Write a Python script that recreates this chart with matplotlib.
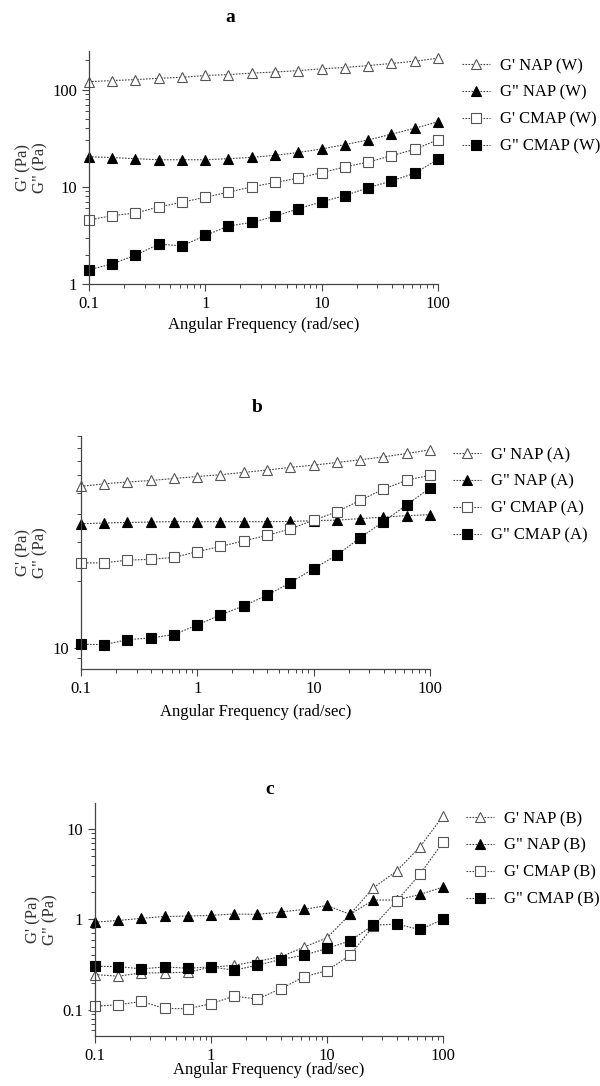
import numpy as np
import matplotlib.pyplot as plt
from matplotlib import ticker

# Inputs:

freq = [0.1, 0.158, 0.251, 0.398, 0.631, 1, 1.58, 2.51, 3.98, 6.31,
        10, 15.8, 25.1, 39.8, 63.1, 100]

# panel a (W)
gp_nap_w = [121, 124, 127, 131, 134, 140, 143, 148, 152, 157, 164, 169, 177, 186, 196, 211]
gpp_nap_w = [20.4, 20.0, 19.5, 19.0, 19.0, 19.0, 19.5, 20.1, 21.1, 22.6, 24.5, 27.2, 30.4, 34.8, 40.1, 46.7]
gp_cmap_w = [4.56, 5.05, 5.38, 6.21, 6.94, 7.82, 8.81, 10.0, 11.1, 12.3, 14.0, 16.0, 18.0, 20.9, 24.3, 30.6]
gpp_cmap_w = [1.40, 1.61, 1.98, 2.57, 2.47, 3.16, 3.95, 4.31, 4.97, 5.97, 7.0, 8.13, 9.77, 11.5, 13.8, 19.2]

# panel b (A)
gp_nap_a = [53.5, 55.0, 56.0, 56.9, 58.1, 59.3, 60.4, 61.9, 63.4, 65.2, 66.7, 68.6, 70.5, 72.7, 75.3, 78.2]
gpp_nap_a = [36.3, 36.6, 36.8, 37.0, 37.1, 37.1, 37.1, 37.1, 37.1, 37.2, 37.5, 37.7, 38.3, 38.9, 39.5, 39.9]
gp_cmap_a = [24.2, 24.2, 24.9, 25.1, 25.6, 27.2, 28.7, 30.4, 32.2, 34.4, 37.7, 41.1, 46.3, 52.0, 57.1, 60.1]
gpp_cmap_a = [10.4, 10.35, 10.9, 11.1, 11.5, 12.7, 14.1, 15.5, 17.3, 19.7, 22.8, 26.2, 31.4, 37.1, 44.2, 52.6]

# panel c (B)
gp_nap_b = [0.246, 0.236, 0.257, 0.257, 0.261, 0.297, 0.312, 0.346, 0.386, 0.494, 0.627, 1.14, 2.24, 3.43, 6.32, 13.9]
gpp_nap_b = [0.934, 0.975, 1.03, 1.08, 1.09, 1.11, 1.15, 1.14, 1.21, 1.29, 1.43, 1.14, 1.64, 1.64, 1.89, 2.28]
gp_cmap_b = [0.110, 0.114, 0.124, 0.104, 0.103, 0.117, 0.142, 0.132, 0.171, 0.232, 0.272, 0.403, 0.844, 1.60, 3.15, 7.18]
gpp_cmap_b = [0.304, 0.302, 0.284, 0.299, 0.289, 0.299, 0.275, 0.312, 0.361, 0.403, 0.478, 0.581, 0.866, 0.888, 0.775, 1.0]

labels_base = ["G' NAP", 'G" NAP', "G' CMAP", 'G" CMAP']

# Plot:

plt.rcParams['font.family'] = ['Liberation Serif', 'DejaVu Serif']
W, H = 600, 1086
fig = plt.figure(figsize=(W / 100, H / 100), dpi=100)

# box = (left, top, right, bottom) in pixels
panels = [
    dict(box=(89, 51, 438, 284), ylim=(1, 250), series=[gp_nap_w, gpp_nap_w, gp_cmap_w, gpp_cmap_w],
         tag='W', title='a', tx=230, ty=18, lx=462, ly=58, xl=325),
    dict(box=(81, 436, 430, 669), ylim=(8.04, 90.3), series=[gp_nap_a, gpp_nap_a, gp_cmap_a, gpp_cmap_a],
         tag='A', title='b', tx=257, ty=408, lx=453, ly=447, xl=712),
    dict(box=(95, 803, 443, 1036), ylim=(0.0515, 19.4), series=[gp_nap_b, gpp_nap_b, gp_cmap_b, gpp_cmap_b],
         tag='B', title='c', tx=270, ty=790, lx=466, ly=811, xl=1070),
]

styles = [
    dict(marker='^', mfc='white', mec='#555555'),
    dict(marker='^', mfc='black', mec='black'),
    dict(marker='s', mfc='white', mec='#555555'),
    dict(marker='s', mfc='black', mec='black'),
]

for p in panels:
    l, t, r, b = p['box']
    ax = fig.add_axes([l / W, 1 - b / H, (r - l) / W, (b - t) / H])
    handles = []
    for vals, st, lab in zip(p['series'], styles, labels_base):
        h, = ax.plot(freq, vals, color='#444444', lw=0.8, ls=(0, (1.5, 1.2)),
                     ms=7, mew=0.8, clip_on=False,
                     label='%s (%s)' % (lab, p['tag']), **st)
        handles.append(h)
    ax.set_xscale('log')
    ax.set_yscale('log')
    ax.set_xlim(0.1, 100)
    ax.set_ylim(*p['ylim'])
    for s in ['top', 'right']:
        ax.spines[s].set_visible(False)
    for s in ['left', 'bottom']:
        ax.spines[s].set_color('#444444')
        ax.spines[s].set_linewidth(0.9)
    fmt = ticker.FuncFormatter(lambda v, _: '%g' % v)
    ax.xaxis.set_major_formatter(fmt)
    ax.yaxis.set_major_formatter(fmt)
    ax.xaxis.set_minor_formatter(ticker.NullFormatter())
    ax.yaxis.set_minor_formatter(ticker.NullFormatter())
    ax.tick_params(which='major', length=5, width=0.8, color='#444444', labelsize=12)
    ax.tick_params(which='minor', length=3, width=0.7, color='#444444')
    ax.set_ylabel("G' (Pa)\nG\" (Pa)", fontsize=12, color='#333333', labelpad=3,
                  linespacing=1.1)
    fig.text(((l + r) / 2) / W, 1 - p['xl'] / H, 'Angular Frequency (rad/sec)',
             ha='center', va='center', fontsize=12)
    fig.text(p['tx'] / W, 1 - p['ty'] / H, p['title'], ha='center', va='center',
             fontsize=14, fontweight='bold')
    fig.legend(handles=handles, loc='upper left', bbox_to_anchor=(p['lx'] / W, 1 - p['ly'] / H),
               frameon=False, fontsize=12, handlelength=1.7, handletextpad=0.6,
               labelspacing=0.65, borderpad=0, borderaxespad=0)

plt.savefig('out.png', dpi=100)
